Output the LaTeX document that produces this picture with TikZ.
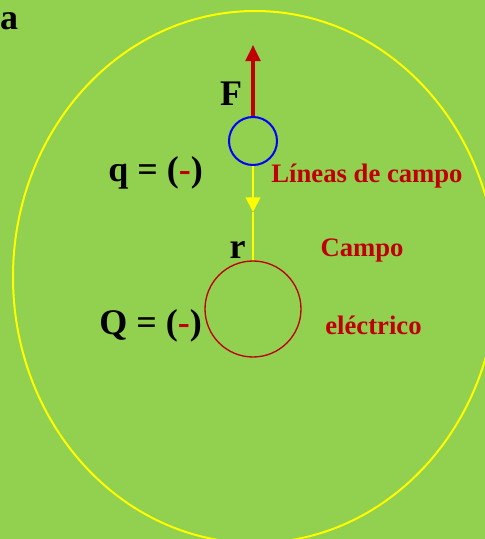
\documentclass[tikz,border=0pt]{standalone}
\usepackage{fontspec}
\setmainfont{Liberation Serif}
\usetikzlibrary{arrows.meta}

\definecolor{fondo}{RGB}{146,208,80}
\definecolor{rojo}{RGB}{192,0,0}
\definecolor{amarillo}{RGB}{255,255,0}
\definecolor{azul}{RGB}{0,0,255}

\begin{document}
\begin{tikzpicture}[x=0.75pt, y=-0.75pt,
  big/.style={inner sep=0pt, anchor=base, font=\fontsize{27}{32}\selectfont\bfseries},
  note/.style={inner sep=0pt, anchor=base, text=rojo, font=\fontsize{20}{24}\selectfont\bfseries},
  charge/.style={circle, inner sep=0pt, fill=none},
  force/.style={-{Triangle[length=12pt,width=11pt]}, draw=rojo, line width=2.3pt},
  fieldline/.style={draw=amarillo, line width=1.5pt}
]
\useasboundingbox (0,0) rectangle (485,539);
\fill[fondo] (0,0) rectangle (485,539);

% campo
\draw[amarillo, line width=1.5pt] (255,277) ellipse [x radius=242, y radius=266];

% cargas
\node[charge, draw=azul, line width=1.5pt, minimum size=36pt] (q) at (253,141) {};
\node[charge, draw=rojo, line width=1pt, minimum size=72pt] (Q) at (253,309) {};
\coordinate (tipF) at (253,45);
\coordinate (mid) at (253,212);

\draw[force] (q.north) -- (tipF);
\draw[fieldline, -{Triangle[length=11pt,width=11pt]}] (q.south) -- (mid);
\draw[fieldline] (mid) -- (Q.north);

% textos
\node[big] (la) at (9,29) {a};
\node[big] (lF) at (231,105) {F};
\node[big] (lq) at (155.5,181) {q = (\textcolor{rojo}{-})};
\node[big] (lr) at (237.5,258) {r};
\node[big] (lQ) at (150.5,334) {Q = (\textcolor{rojo}{-})};
\node[note] (lin) at (367,182) {Líneas de campo};
\node[note] (cam) at (362,256) {Campo};
\node[note] (ele) at (373.5,334) {eléctrico};
\end{tikzpicture}
\end{document}
